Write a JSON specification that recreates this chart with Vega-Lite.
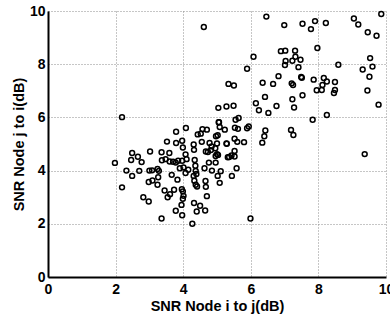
{
  "$schema": "https://vega.github.io/schema/vega-lite/v6.json",
  "width": 338,
  "height": 266,
  "autosize": "none",
  "padding": {"left": 48, "top": 11, "right": 4, "bottom": 39},
  "background": "white",
  "config": {"view": {"stroke": null}, "font": "Liberation Sans"},
  "data": {"values": [
    {"ij": 4.61, "ji": 9.40}, {"ij": 6.46, "ji": 9.79}, {"ij": 6.99, "ji": 9.47}, {"ij": 7.53, "ji": 9.52}, {"ij": 7.90, "ji": 9.62}, {"ij": 7.78, "ji": 9.32}, {"ij": 8.22, "ji": 9.55}, {"ij": 9.05, "ji": 9.72}, {"ij": 9.18, "ji": 9.49}, {"ij": 9.86, "ji": 9.89}, {"ij": 9.46, "ji": 9.20}, {"ij": 9.72, "ji": 9.07},
    {"ij": 6.08, "ji": 8.28}, {"ij": 6.89, "ji": 8.49}, {"ij": 7.02, "ji": 8.51}, {"ij": 7.31, "ji": 8.51}, {"ij": 7.97, "ji": 8.61}, {"ij": 7.32, "ji": 8.28}, {"ij": 7.23, "ji": 8.13}, {"ij": 7.03, "ji": 8.12}, {"ij": 7.47, "ji": 8.17}, {"ij": 7.01, "ji": 7.97}, {"ij": 7.41, "ji": 7.89}, {"ij": 8.59, "ji": 7.98}, {"ij": 9.53, "ji": 8.23}, {"ij": 9.60, "ji": 7.91}, {"ij": 9.31, "ji": 7.80}, {"ij": 9.51, "ji": 7.53}, {"ij": 9.45, "ji": 7.01}, {"ij": 9.78, "ji": 6.48},
    {"ij": 5.89, "ji": 7.83}, {"ij": 6.82, "ji": 7.55}, {"ij": 7.49, "ji": 7.52}, {"ij": 7.51, "ji": 7.49}, {"ij": 7.86, "ji": 7.42}, {"ij": 8.16, "ji": 7.48}, {"ij": 8.25, "ji": 7.35}, {"ij": 8.49, "ji": 7.33}, {"ij": 8.12, "ji": 7.22}, {"ij": 8.10, "ji": 7.03}, {"ij": 7.95, "ji": 7.02}, {"ij": 8.49, "ji": 7.03}, {"ij": 8.46, "ji": 6.92}, {"ij": 7.21, "ji": 7.28}, {"ij": 7.25, "ji": 7.22}, {"ij": 7.53, "ji": 6.83}, {"ij": 6.66, "ji": 7.26}, {"ij": 6.35, "ji": 7.30}, {"ij": 6.42, "ji": 6.77}, {"ij": 6.15, "ji": 6.53}, {"ij": 6.24, "ji": 6.27}, {"ij": 6.52, "ji": 6.17}, {"ij": 6.76, "ji": 6.43}, {"ij": 7.23, "ji": 6.68}, {"ij": 7.28, "ji": 6.37}, {"ij": 7.83, "ji": 5.91}, {"ij": 8.25, "ji": 6.09},
    {"ij": 5.34, "ji": 7.26}, {"ij": 5.50, "ji": 7.20}, {"ij": 5.04, "ji": 6.36}, {"ij": 5.28, "ji": 6.41}, {"ij": 5.49, "ji": 6.44}, {"ij": 5.64, "ji": 5.98}, {"ij": 5.55, "ji": 5.91}, {"ij": 5.05, "ji": 5.82}, {"ij": 6.43, "ji": 5.51}, {"ij": 6.40, "ji": 5.29}, {"ij": 6.34, "ji": 5.05}, {"ij": 7.19, "ji": 5.53}, {"ij": 7.26, "ji": 5.34}, {"ij": 9.37, "ji": 4.62}, {"ij": 5.99, "ji": 2.20}, {"ij": 2.19, "ji": 6.01},
    {"ij": 1.98, "ji": 4.29}, {"ij": 2.19, "ji": 3.37}, {"ij": 2.32, "ji": 4.00}, {"ij": 2.49, "ji": 3.80}, {"ij": 2.46, "ji": 4.40}, {"ij": 2.49, "ji": 4.66}, {"ij": 2.66, "ji": 4.52}, {"ij": 2.77, "ji": 4.32}, {"ij": 2.70, "ji": 3.99}, {"ij": 2.82, "ji": 3.00},
    {"ij": 2.98, "ji": 2.84}, {"ij": 2.98, "ji": 3.57}, {"ij": 3.00, "ji": 4.00}, {"ij": 3.08, "ji": 4.01}, {"ij": 3.09, "ji": 3.63}, {"ij": 3.02, "ji": 4.72}, {"ij": 3.24, "ji": 4.06}, {"ij": 3.28, "ji": 3.99}, {"ij": 3.26, "ji": 3.75}, {"ij": 3.24, "ji": 3.47},
    {"ij": 3.36, "ji": 2.20}, {"ij": 3.45, "ji": 3.25}, {"ij": 3.37, "ji": 4.39}, {"ij": 3.48, "ji": 4.43}, {"ij": 3.36, "ji": 4.69}, {"ij": 3.59, "ji": 4.66}, {"ij": 3.60, "ji": 4.34}, {"ij": 3.54, "ji": 3.00}, {"ij": 3.61, "ji": 3.11}, {"ij": 3.66, "ji": 3.84},
    {"ij": 3.73, "ji": 3.28}, {"ij": 3.78, "ji": 2.49}, {"ij": 3.83, "ji": 3.66}, {"ij": 3.70, "ji": 4.33}, {"ij": 3.78, "ji": 4.30}, {"ij": 3.85, "ji": 4.37}, {"ij": 3.90, "ji": 4.09}, {"ij": 3.97, "ji": 4.37}, {"ij": 4.01, "ji": 4.12}, {"ij": 4.07, "ji": 4.61},
    {"ij": 4.07, "ji": 3.91}, {"ij": 4.15, "ji": 4.03}, {"ij": 3.96, "ji": 3.30}, {"ij": 3.99, "ji": 3.22}, {"ij": 4.01, "ji": 3.05}, {"ij": 3.99, "ji": 2.94}, {"ij": 3.95, "ji": 2.71}, {"ij": 3.97, "ji": 2.32}, {"ij": 4.27, "ji": 2.00}, {"ij": 4.32, "ji": 2.78},
    {"ij": 4.40, "ji": 2.46}, {"ij": 4.50, "ji": 2.68}, {"ij": 4.65, "ji": 2.50}, {"ij": 4.70, "ji": 3.04}, {"ij": 4.67, "ji": 3.39}, {"ij": 4.41, "ji": 3.40}, {"ij": 4.37, "ji": 3.47}, {"ij": 4.66, "ji": 3.61}, {"ij": 4.33, "ji": 3.62}, {"ij": 4.39, "ji": 3.87},
    {"ij": 4.31, "ji": 3.80}, {"ij": 4.37, "ji": 3.99}, {"ij": 4.36, "ji": 4.18}, {"ij": 4.63, "ji": 4.09}, {"ij": 4.85, "ji": 4.00}, {"ij": 5.11, "ji": 3.98}, {"ij": 5.58, "ji": 4.09}, {"ij": 5.02, "ji": 3.80}, {"ij": 5.44, "ji": 3.80}, {"ij": 5.08, "ji": 3.54},
    {"ij": 4.76, "ji": 4.30}, {"ij": 4.96, "ji": 4.30}, {"ij": 4.67, "ji": 4.72}, {"ij": 4.96, "ji": 4.55}, {"ij": 5.03, "ji": 4.59}, {"ij": 5.36, "ji": 4.51}, {"ij": 5.43, "ji": 4.57}, {"ij": 5.52, "ji": 4.53}, {"ij": 5.52, "ji": 4.74}, {"ij": 4.32, "ji": 4.78},
    {"ij": 4.31, "ji": 4.98}, {"ij": 4.55, "ji": 5.08}, {"ij": 4.78, "ji": 5.04}, {"ij": 5.00, "ji": 5.02}, {"ij": 5.28, "ji": 5.02}, {"ij": 4.95, "ji": 4.84}, {"ij": 4.84, "ji": 4.91}, {"ij": 4.82, "ji": 4.77}, {"ij": 4.73, "ji": 4.70}, {"ij": 5.00, "ji": 4.62},
    {"ij": 5.80, "ji": 5.07}, {"ij": 5.60, "ji": 5.08}, {"ij": 5.52, "ji": 5.20}, {"ij": 5.02, "ji": 5.33}, {"ij": 5.23, "ji": 5.54}, {"ij": 5.53, "ji": 5.61}, {"ij": 5.62, "ji": 5.57}, {"ij": 5.89, "ji": 5.59}, {"ij": 5.94, "ji": 5.66}, {"ij": 4.70, "ji": 5.54},
    {"ij": 4.52, "ji": 5.39}, {"ij": 4.43, "ji": 5.36}, {"ij": 4.57, "ji": 5.56}, {"ij": 4.08, "ji": 5.60}, {"ij": 3.79, "ji": 5.46}, {"ij": 3.52, "ji": 5.09}, {"ij": 3.79, "ji": 5.04}, {"ij": 3.97, "ji": 5.12}, {"ij": 3.99, "ji": 4.87}, {"ij": 5.06, "ji": 5.82},
    {"ij": 5.08, "ji": 5.64}, {"ij": 5.32, "ji": 4.50}, {"ij": 4.10, "ji": 4.43}, {"ij": 4.34, "ji": 4.40}, {"ij": 5.29, "ji": 5.01}, {"ij": 4.97, "ji": 5.29}
  ]},
  "mark": {"type": "point", "shape": "circle", "filled": false, "color": "black", "size": 24, "strokeWidth": 1.5, "opacity": 1},
  "encoding": {
    "x": {
      "field": "ij", "type": "quantitative",
      "scale": {"domain": [0, 10], "nice": false, "zero": false},
      "axis": {
        "title": "SNR Node i to j(dB)", "values": [0, 2, 4, 6, 8, 10],
        "grid": true, "gridDash": [1, 2], "gridColor": "#8c8c8c", "gridWidth": 1,
        "domainColor": "black", "domainWidth": 2, "ticks": false,
        "labelFont": "Liberation Sans", "labelFontWeight": "bold", "labelFontSize": 14, "labelColor": "black", "labelPadding": 5, "labelFlush": false, "labelOverlap": false,
        "titleFont": "Liberation Sans", "titleFontWeight": "bold", "titleFontSize": 14.5, "titleColor": "black", "titlePadding": 3
      }
    },
    "y": {
      "field": "ji", "type": "quantitative",
      "scale": {"domain": [0, 10], "nice": false, "zero": false},
      "axis": {
        "title": "SNR Node j to i(dB)", "values": [0, 2, 4, 6, 8, 10],
        "grid": true, "gridDash": [1, 2], "gridColor": "#8c8c8c", "gridWidth": 1,
        "domainColor": "black", "domainWidth": 2, "ticks": false,
        "labelFont": "Liberation Sans", "labelFontWeight": "bold", "labelFontSize": 14, "labelColor": "black", "labelPadding": 3, "labelFlush": false, "labelOverlap": false,
        "titleFont": "Liberation Sans", "titleFontWeight": "bold", "titleFontSize": 14.5, "titleColor": "black", "titlePadding": 3
      }
    }
  }
}
